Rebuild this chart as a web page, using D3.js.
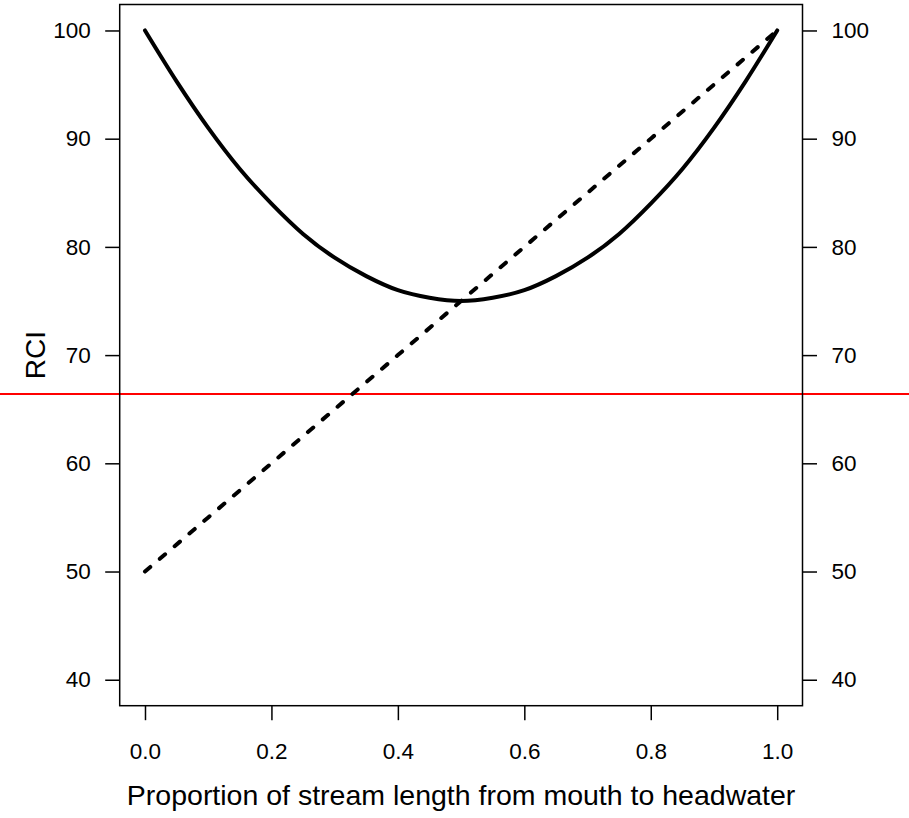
<!DOCTYPE html>
<html>
<head>
<meta charset="utf-8">
<script src="https://cdn.jsdelivr.net/npm/d3@7"></script>
<style>
  body { margin:0; background:#fff; }
  text { font-family: "Liberation Sans", Arial, sans-serif; fill:#000; }
</style>
</head>
<body>
<svg id="chart" width="909" height="818"></svg>
<script>
// proportion of stream length (x)
var xs = [0, 0.05, 0.1, 0.15, 0.2, 0.25, 0.3, 0.35, 0.4, 0.45, 0.5,
          0.55, 0.6, 0.65, 0.7, 0.75, 0.8, 0.85, 0.9, 0.95, 1.0];
// solid curve (RCI)
var rciCurve = [100, 95.3, 91.0, 87.2, 84.0, 81.2, 79.0, 77.3, 76.0, 75.3, 75.0,
                75.3, 76.0, 77.3, 79.0, 81.2, 84.0, 87.2, 91.0, 95.3, 100];
// dashed line
var xsLine = [0, 0.1, 0.2, 0.3, 0.4, 0.5, 0.6, 0.7, 0.8, 0.9, 1.0];
var rciLine = [50, 55, 60, 65, 70, 75, 80, 85, 90, 95, 100];
// red reference level
var threshold = 66.4;

var xTicks = [0, 0.2, 0.4, 0.6, 0.8, 1.0];
var yTicks = [40, 50, 60, 70, 80, 90, 100];

var W = 909, H = 818;
var pLeft = 119.7, pRight = 802.5, pTop = 4.5, pBottom = 705.7;

var svg = d3.select("#chart");

var x = d3.scaleLinear().domain([-0.04, 1.04]).range([pLeft, pRight]);
var y = d3.scaleLinear().domain([37.6, 102.4]).range([pBottom, pTop]);

// red horizontal line, runs the full page width
svg.append("line")
  .attr("x1", 0)
  .attr("x2", W)
  .attr("y1", y(threshold))
  .attr("y2", y(threshold))
  .attr("stroke", "#ff0000")
  .attr("stroke-width", 2);

function styleAxis(g){
  g.select(".domain").remove();
  g.selectAll(".tick line").attr("stroke", "#000").attr("stroke-width", 1.5);
  g.selectAll(".tick text")
    .style("font-size", "22.5px")
    .style("font-family", "'Liberation Sans', Arial, sans-serif")
    .attr("fill", "#000");
}

svg.append("g")
  .attr("transform", "translate(" + pLeft + ",0)")
  .call(d3.axisLeft(y).tickValues(yTicks).tickFormat(d3.format("d")).tickSize(14.5).tickPadding(14.5))
  .call(styleAxis);

svg.append("g")
  .attr("transform", "translate(" + pRight + ",0)")
  .call(d3.axisRight(y).tickValues(yTicks).tickFormat(d3.format("d")).tickSize(14.5).tickPadding(14.5))
  .call(styleAxis);

svg.append("g")
  .attr("transform", "translate(0," + pBottom + ")")
  .call(d3.axisBottom(x).tickValues(xTicks).tickFormat(d3.format(".1f")).tickSize(14.5).tickPadding(23))
  .call(styleAxis);

// plot box
svg.append("rect")
  .attr("x", pLeft)
  .attr("y", pTop)
  .attr("width", pRight - pLeft)
  .attr("height", pBottom - pTop)
  .attr("fill", "none")
  .attr("stroke", "#000")
  .attr("stroke-width", 1.5);

var line = d3.line()
  .x(function(d){ return x(d[0]); })
  .y(function(d){ return y(d[1]); });

svg.append("path")
  .datum(d3.zip(xsLine, rciLine))
  .attr("d", line)
  .attr("fill", "none")
  .attr("stroke", "#000")
  .attr("stroke-width", 4)
  .attr("stroke-linecap", "round")
  .attr("stroke-dasharray", "7,12.5");

svg.append("path")
  .datum(d3.zip(xs, rciCurve))
  .attr("d", line.curve(d3.curveMonotoneX))
  .attr("fill", "none")
  .attr("stroke", "#000")
  .attr("stroke-width", 4)
  .attr("stroke-linecap", "round")
  .attr("stroke-linejoin", "round");

// axis titles
svg.append("text")
  .attr("x", (pLeft + pRight) / 2)
  .attr("y", 805)
  .attr("text-anchor", "middle")
  .style("font-size", "28.5px")
  .text("Proportion of stream length from mouth to headwater");

svg.append("text")
  .attr("transform", "translate(45," + ((pTop + pBottom) / 2) + ") rotate(-90)")
  .attr("text-anchor", "middle")
  .style("font-size", "28px")
  .text("RCI");
</script>
</body>
</html>
